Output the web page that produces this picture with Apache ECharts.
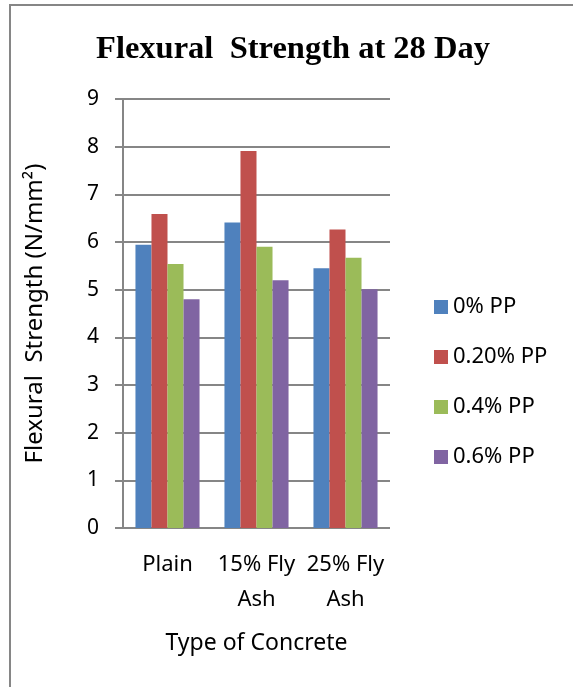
<!DOCTYPE html>
<html>
<head>
<meta charset="utf-8">
<script src="https://cdn.jsdelivr.net/npm/echarts@6/dist/echarts.min.js"></script>
<style>
  html, body { margin: 0; padding: 0; background: #ffffff; }
  #chart { width: 573px; height: 687px; }
</style>
</head>
<body>
<div id="chart"></div>
<script>
// Flexural strength at 28 days by concrete type and PP fibre dosage
const categories = ['Plain', '15% Fly\nAsh', '25% Fly\nAsh'];
const seriesNames = ['0% PP', '0.20% PP', '0.4% PP', '0.6% PP'];
const pp0 = [5.94, 6.41, 5.45];
const pp020 = [6.59, 7.91, 6.26];
const pp04 = [5.54, 5.90, 5.67];
const pp06 = [4.80, 5.20, 5.01];
const yTicks = [0, 1, 2, 3, 4, 5, 6, 7, 8, 9];

const colors = ['#4F81BD', '#C0504D', '#9BBB59', '#8064A2'];
const textFont = 'Noto Sans';
const values = [pp0, pp020, pp04, pp06];

const chart = echarts.init(document.getElementById('chart'));
chart.setOption({
  animation: false,
  color: colors,
  title: {
    text: 'Flexural  Strength at 28 Day',
    left: 288,
    textAlign: 'center',
    top: 28,
    textStyle: {
      fontFamily: 'Liberation Serif',
      fontWeight: 'bold',
      fontSize: 32.5,
      color: '#000'
    }
  },
  graphic: [{
    type: 'rect',
    shape: { x: 10, y: 5, width: 600, height: 720 },
    style: { fill: 'none', stroke: '#868686', lineWidth: 2 },
    silent: true
  }],
  legend: {
    orient: 'vertical',
    left: 429,
    top: 291,
    itemWidth: 14,
    itemHeight: 14,
    itemGap: 28,
    icon: 'rect',
    textStyle: { fontFamily: textFont, fontSize: 22, color: '#000' },
    data: seriesNames
  },
  grid: { left: 123, right: 183, top: 99, bottom: 159 },
  xAxis: {
    type: 'category',
    data: categories,
    name: 'Type of Concrete',
    nameLocation: 'middle',
    nameGap: 104,
    nameTextStyle: { fontFamily: textFont, fontSize: 23, color: '#000' },
    axisLine: { show: false },
    axisTick: { show: false },
    axisLabel: {
      fontFamily: textFont, fontSize: 22, color: '#000',
      margin: 19, lineHeight: 35, interval: 0
    }
  },
  yAxis: {
    type: 'value',
    min: 0,
    max: 9,
    interval: 1,
    name: 'Flexural  Strength (N/mm²)',
    nameLocation: 'middle',
    nameGap: 76,
    nameRotate: 90,
    nameTextStyle: { fontFamily: textFont, fontSize: 24, color: '#000' },
    axisLine: { show: true, lineStyle: { color: '#868686', width: 2 } },
    axisTick: { show: true, length: 8, lineStyle: { color: '#868686', width: 2 } },
    axisLabel: {
      fontFamily: textFont, fontSize: 21, color: '#000', margin: 24,
      formatter: v => (yTicks.includes(v) ? String(v) : '')
    },
    splitLine: { lineStyle: { color: '#868686', width: 2 } }
  },
  series: seriesNames.map((name, i) => ({
    name,
    type: 'bar',
    data: values[i],
    barGap: '0%',
    barCategoryGap: '28%',
    itemStyle: { color: colors[i] }
  }))
});
</script>
</body>
</html>
